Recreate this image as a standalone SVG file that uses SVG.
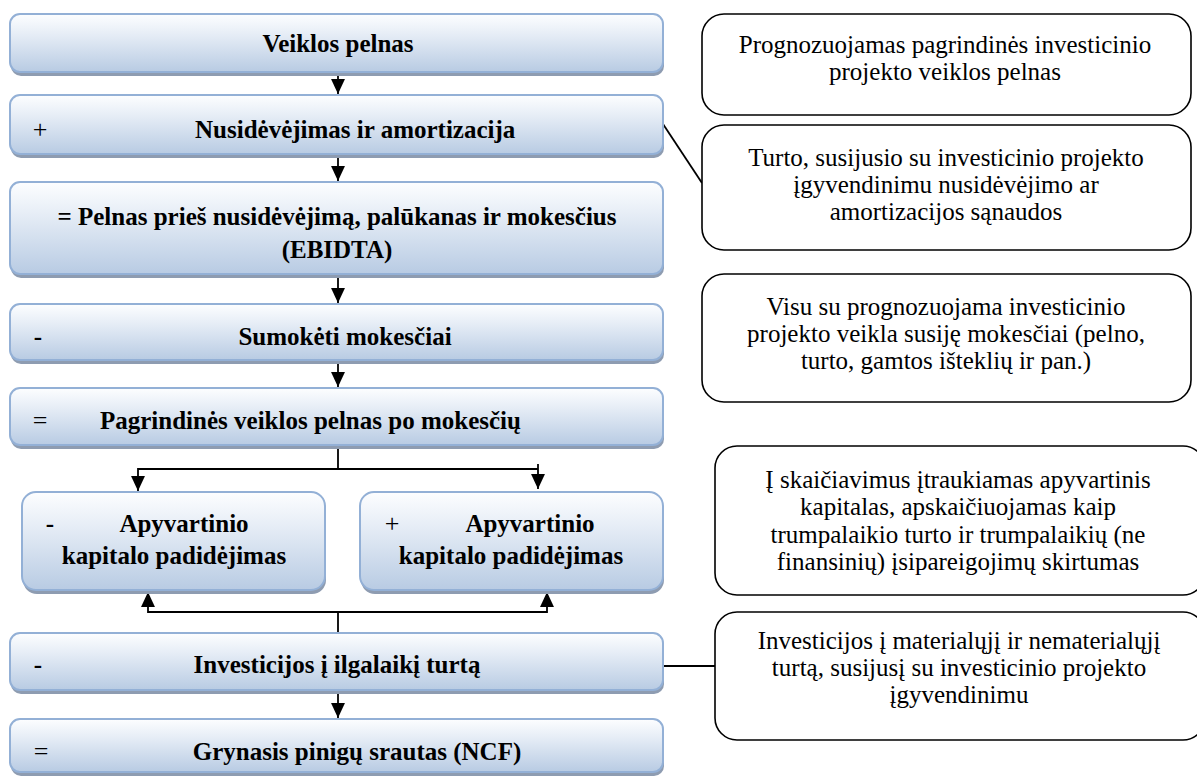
<svg xmlns="http://www.w3.org/2000/svg" width="1197" height="776" viewBox="0 0 1197 776">
<defs>
<linearGradient id="gb" x1="0" y1="0" x2="0" y2="1">
<stop offset="0" stop-color="#fdfeff"/>
<stop offset="0.35" stop-color="#e6edf6"/>
<stop offset="1" stop-color="#b8cbe3"/>
</linearGradient>
<marker id="ah" viewBox="0 0 14 13" refX="14" refY="6.5" markerWidth="15" markerHeight="14" markerUnits="userSpaceOnUse" orient="auto">
<path d="M0,0 L14,6.5 L0,13 z" fill="#000"/>
</marker>
</defs>
<style>
.sh{fill:#8e9cb1;}
.bx{fill:url(#gb);stroke:#93b0d6;stroke-width:2;}
.nb{fill:#fff;stroke:#000;stroke-width:1.6;}
.bt{font-family:"Liberation Serif","Times New Roman",serif;font-size:25px;font-weight:bold;fill:#000;}
.sg{font-family:"Liberation Serif","Times New Roman",serif;font-size:26px;fill:#000;}
.rt{font-family:"Liberation Serif","Times New Roman",serif;font-size:25px;fill:#000;text-anchor:middle;}
.c{text-anchor:middle;}
.ln{fill:none;stroke:#000;stroke-width:1.8;}
</style>
<rect width="1197" height="776" fill="#fff"/>

<g id="connectors">
<path class="ln" d="M338,76 V94" marker-end="url(#ah)"/>
<path class="ln" d="M338,158 V181" marker-end="url(#ah)"/>
<path class="ln" d="M338,278 V303" marker-end="url(#ah)"/>
<path class="ln" d="M338,364 V387" marker-end="url(#ah)"/>
<path class="ln" d="M338,449 V469 H138 V491" marker-end="url(#ah)"/>
<path class="ln" d="M338,469 H538"/>
<path class="ln" d="M538,464 V489" marker-end="url(#ah)"/>
<path class="ln" d="M338,633 V612 H148 V592" marker-end="url(#ah)"/>
<path class="ln" d="M338,612 H547 V592" marker-end="url(#ah)"/>
<path class="ln" d="M338,694 V718" marker-end="url(#ah)"/>
<path class="ln" d="M663,124 L702,183"/>
<path class="ln" d="M663,666 H715"/>
</g>

<g id="n1">
<rect class="sh" x="11" y="18" width="653" height="58" rx="10"/>
<rect class="bx" x="10" y="14" width="653" height="58" rx="10"/>
<text class="bt c" x="338" y="52">Veiklos pelnas</text>
</g>
<g id="n2">
<rect class="sh" x="11" y="99" width="653" height="59" rx="10"/>
<rect class="bx" x="10" y="95" width="653" height="59" rx="10"/>
<text class="sg" x="40" y="138" text-anchor="middle">+</text>
<text class="bt" x="195" y="138">Nusidėvėjimas ir amortizacija</text>
</g>
<g id="n3">
<rect class="sh" x="11" y="186" width="653" height="92" rx="10"/>
<rect class="bx" x="10" y="182" width="653" height="92" rx="10"/>
<text class="bt c" x="337" y="225">= Pelnas prieš nusidėvėjimą, palūkanas ir mokesčius</text>
<text class="bt c" x="337" y="258">(EBIDTA)</text>
</g>
<g id="n4">
<rect class="sh" x="11" y="308" width="653" height="56" rx="10"/>
<rect class="bx" x="10" y="304" width="653" height="56" rx="10"/>
<text class="bt c" x="38" y="345">-</text>
<text class="bt c" x="345" y="345">Sumokėti mokesčiai</text>
</g>
<g id="n5">
<rect class="sh" x="11" y="392" width="653" height="57" rx="10"/>
<rect class="bx" x="10" y="388" width="653" height="57" rx="10"/>
<text class="sg" x="40" y="429" text-anchor="middle">=</text>
<text class="bt" x="100" y="429">Pagrindinės veiklos pelnas po mokesčių</text>
</g>
<g id="n6">
<rect class="sh" x="23" y="496" width="303" height="98" rx="14"/>
<rect class="bx" x="22" y="492" width="303" height="98" rx="14"/>
<text class="bt c" x="50" y="532">-</text>
<text class="bt c" x="184" y="532">Apyvartinio</text>
<text class="bt c" x="174" y="564">kapitalo padidėjimas</text>
</g>
<g id="n7">
<rect class="sh" x="361" y="496" width="303" height="98" rx="14"/>
<rect class="bx" x="360" y="492" width="303" height="98" rx="14"/>
<text class="sg" x="392" y="532" text-anchor="middle">+</text>
<text class="bt c" x="530" y="532">Apyvartinio</text>
<text class="bt c" x="511" y="564">kapitalo padidėjimas</text>
</g>
<g id="n8">
<rect class="sh" x="11" y="637" width="653" height="57" rx="10"/>
<rect class="bx" x="10" y="633" width="653" height="57" rx="10"/>
<text class="bt c" x="38" y="673">-</text>
<text class="bt c" x="337" y="673">Investicijos į ilgalaikį turtą</text>
</g>
<g id="n9">
<rect class="sh" x="11" y="723" width="653" height="53" rx="10"/>
<rect class="bx" x="10" y="719" width="653" height="53" rx="10"/>
<text class="sg" x="41" y="760" text-anchor="middle">=</text>
<text class="bt c" x="357" y="760">Grynasis pinigų srautas (NCF)</text>
</g>

<g id="r1">
<rect class="nb" x="702" y="14" width="489" height="101" rx="22"/>
<text class="rt" x="945" y="53">Prognozuojamas pagrindinės investicinio</text>
<text class="rt" x="945" y="80">projekto veiklos pelnas</text>
</g>
<g id="r2">
<rect class="nb" x="702" y="125" width="489" height="125" rx="22"/>
<text class="rt" x="946" y="166">Turto, susijusio su investicinio projekto</text>
<text class="rt" x="946" y="193">įgyvendinimu nusidėvėjimo ar</text>
<text class="rt" x="946" y="220">amortizacijos sąnaudos</text>
</g>
<g id="r3">
<rect class="nb" x="702" y="274" width="489" height="128" rx="22"/>
<text class="rt" x="946" y="315">Visu su prognozuojama investicinio</text>
<text class="rt" x="946" y="342">projekto veikla susiję mokesčiai (pelno,</text>
<text class="rt" x="946" y="369">turto, gamtos išteklių ir pan.)</text>
</g>
<g id="r4">
<rect class="nb" x="715" y="446" width="490" height="149" rx="22"/>
<text class="rt" x="958" y="488">Į skaičiavimus įtraukiamas apyvartinis</text>
<text class="rt" x="958" y="515">kapitalas, apskaičiuojamas kaip</text>
<text class="rt" x="958" y="543">trumpalaikio turto ir trumpalaikių (ne</text>
<text class="rt" x="958" y="570">finansinių) įsipareigojimų skirtumas</text>
</g>
<g id="r5">
<rect class="nb" x="715" y="612" width="490" height="128" rx="22"/>
<text class="rt" x="959" y="649">Investicijos į materialųjį ir nematerialųjį</text>
<text class="rt" x="959" y="676">turtą, susijusį su investicinio projekto</text>
<text class="rt" x="959" y="703">įgyvendinimu</text>
</g>
</svg>
